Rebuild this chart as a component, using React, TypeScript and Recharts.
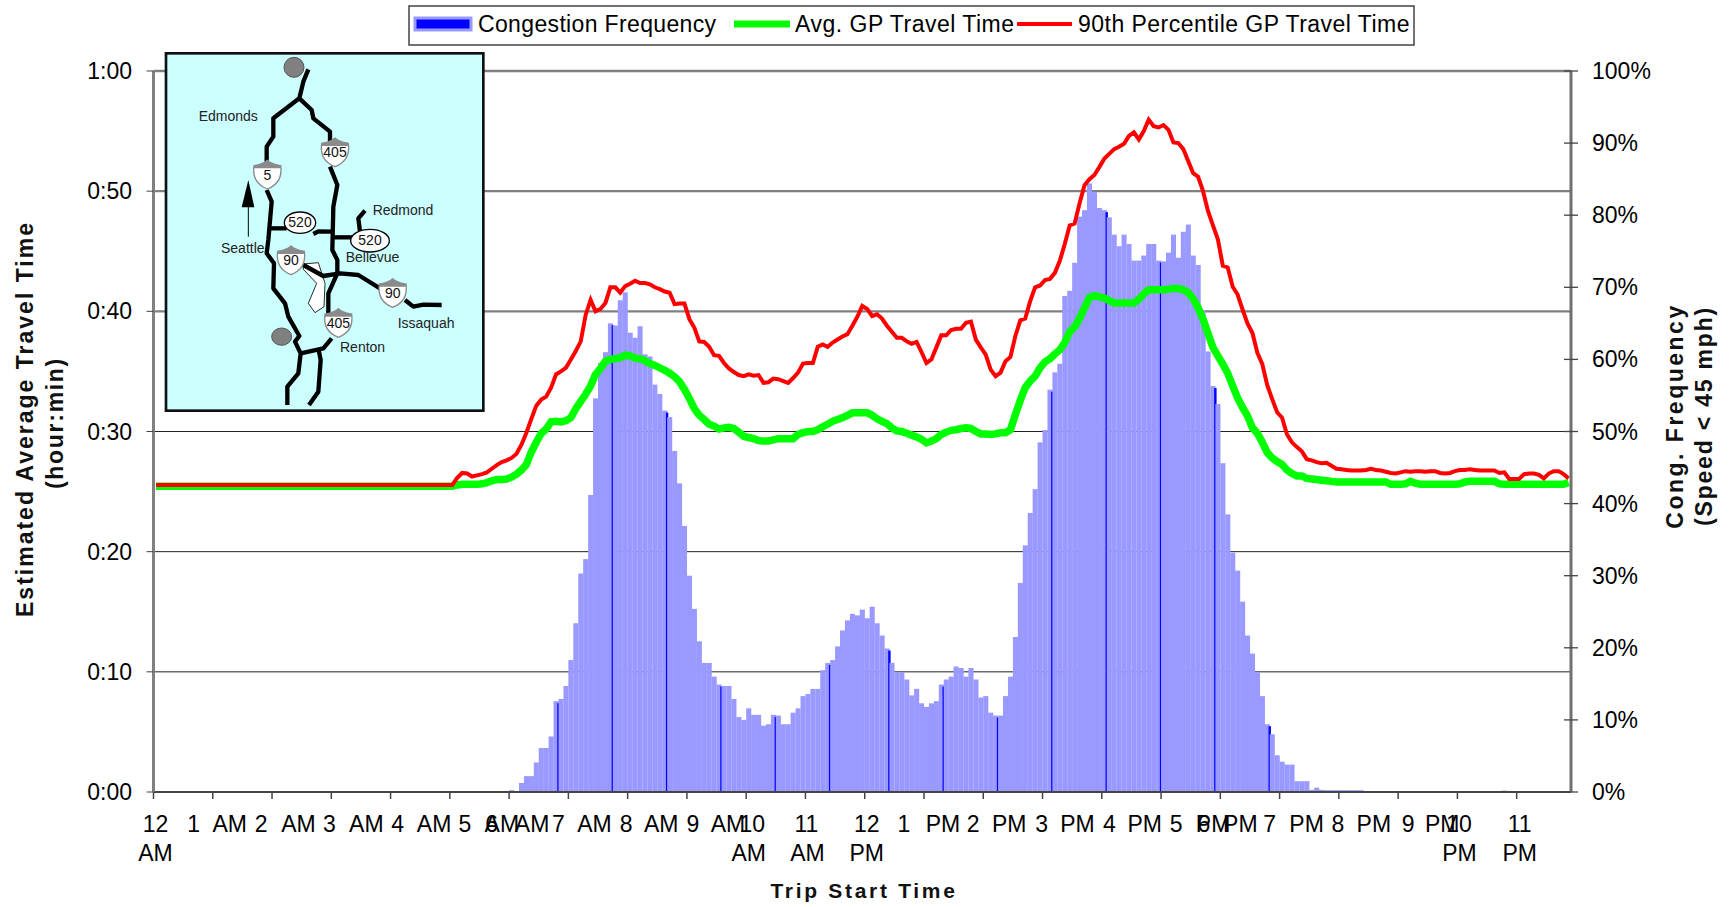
import { ComposedChart, Bar, Line, XAxis, YAxis, CartesianGrid, Legend } from 'recharts';

const FONT = '"Liberation Sans", Arial, sans-serif';

// 5 minute slots, one row per hour
const congestionFrequency = [
  0, 0, 0, 0, 0, 0, 0, 0, 0, 0, 0, 0,
  0, 0, 0, 0, 0, 0, 0, 0, 0, 0, 0, 0,
  0, 0, 0, 0, 0, 0, 0, 0, 0, 0, 0, 0,
  0, 0, 0, 0, 0, 0, 0, 0, 0, 0, 0, 0,
  0, 0, 0, 0, 0, 0, 0, 0, 0, 0, 0, 0,
  0, 0, 0, 0, 0, 0, 0, 0, 0, 0, 0, 0,
  0.25, 0, 1.25, 2.2, 2.2, 4.1, 6.1, 6.1, 7.7, 12.6, 12.9, 14.7,
  18.3, 23.4, 30.3, 32.3, 41.2, 54.6, 59.5, 61, 65, 64.7, 68.2, 69.3,
  63.7, 63, 64.6, 60.7, 60.4, 56.5, 55.2, 52.9, 52, 47.3, 42.8, 36.9,
  30, 25.4, 20.9, 17.9, 17.9, 16, 14.9, 14.7, 14.7, 12.9, 10.4, 10,
  11.6, 10.7, 10.7, 9.2, 9.4, 10.7, 10.6, 9.4, 9.4, 11, 11.6, 13.3,
  13.6, 14.3, 14.3, 16.9, 17.9, 18.3, 20.2, 22.4, 23.8, 24.7, 24.5, 25.3,
  24.1, 25.7, 23.4, 21.7, 19.9, 17.9, 16.6, 16.6, 15.6, 13.4, 14.3, 12.3,
  11.8, 12.3, 12.6, 14.9, 15.6, 16, 17.4, 17.2, 16, 17.2, 15.6, 13.1,
  13.3, 11, 10.6, 10.6, 13.3, 16, 21.5, 29, 34.2, 38.7, 42, 48.5,
  50.2, 55.8, 58.2, 59.4, 68.8, 69.5, 73.4, 79.8, 80.7, 84.4, 83.2, 81,
  80.7, 79.7, 77.3, 75.7, 77.3, 76, 73.7, 73.7, 74.4, 76, 76, 73.7,
  73.6, 74.8, 77.3, 74.1, 77.7, 78.7, 74.4, 73.1, 66.8, 61.1, 56.3, 53.8,
  45.6, 38.5, 33.2, 30.7, 26.4, 21.7, 19.2, 16.6, 13.3, 9.4, 8, 5.1,
  4.2, 3.8, 3.8, 1.5, 1.5, 1.5, 0.3, 0.6, 0.3, 0.25, 0.25, 0.25,
  0.25, 0.25, 0.25, 0.25, 0.25, 0, 0, 0, 0, 0, 0, 0,
  0, 0, 0, 0, 0, 0, 0, 0, 0, 0, 0, 0,
  0, 0, 0, 0, 0, 0, 0, 0, 0, 0.2, 0, 0,
  0, 0, 0, 0, 0, 0, 0, 0, 0, 0, 0,
];

const avgTravelTime = [
  25.45, 25.45, 25.45, 25.45, 25.45, 25.45, 25.45, 25.45, 25.45, 25.45, 25.45, 25.45,
  25.45, 25.45, 25.45, 25.45, 25.45, 25.45, 25.45, 25.45, 25.45, 25.45, 25.45, 25.45,
  25.45, 25.45, 25.45, 25.45, 25.45, 25.45, 25.45, 25.45, 25.45, 25.45, 25.45, 25.45,
  25.45, 25.45, 25.45, 25.45, 25.45, 25.45, 25.45, 25.45, 25.45, 25.45, 25.45, 25.45,
  25.45, 25.45, 25.45, 25.45, 25.45, 25.45, 25.45, 25.45, 25.45, 25.45, 25.45, 25.45,
  25.45, 25.55, 25.6, 25.6, 25.6, 25.6, 25.65, 25.75, 25.9, 26, 26, 26.05,
  26.2, 26.45, 26.8, 27.25, 28.3, 29.1, 29.85, 30.2, 30.8, 30.85, 30.8, 30.9,
  31.15, 31.9, 32.5, 33.1, 33.8, 34.75, 35.25, 35.85, 36, 36.05, 36.15, 36.35,
  36.3, 36.1, 36.05, 35.9, 35.65, 35.5, 35.3, 35.1, 34.85, 34.55, 34.15, 33.5,
  32.75, 31.9, 31.35, 31, 30.6, 30.45, 30.2, 30.3, 30.35, 30.25, 29.95, 29.6,
  29.5, 29.4, 29.25, 29.2, 29.2, 29.3, 29.4, 29.4, 29.4, 29.4, 29.75, 29.9,
  30, 30, 30.15, 30.4, 30.6, 30.85, 31, 31.15, 31.35, 31.55, 31.55, 31.55,
  31.55, 31.35, 31.05, 30.85, 30.65, 30.3, 30.05, 30, 29.85, 29.7, 29.55, 29.35,
  29.05, 29.2, 29.4, 29.75, 29.95, 30.1, 30.15, 30.25, 30.3, 30.25, 30, 29.8,
  29.8, 29.75, 29.8, 29.9, 29.9, 30.15, 31.4, 32.6, 33.65, 34.2, 34.6, 35.3,
  35.8, 36.05, 36.45, 36.8, 37.4, 38.3, 38.7, 39.4, 40.3, 41.15, 41.3, 41.2,
  41.1, 40.9, 40.7, 40.7, 40.7, 40.7, 40.7, 41, 41.45, 41.8, 41.8, 41.8,
  41.8, 41.85, 41.9, 41.9, 41.8, 41.55, 41.05, 40.3, 39.35, 38.15, 37, 36.3,
  35.6, 34.85, 33.8, 32.8, 32, 31.3, 30.3, 29.85, 29.1, 28.25, 27.8, 27.5,
  27.25, 26.8, 26.5, 26.3, 26.3, 26.1, 26.05, 26, 25.95, 25.9, 25.85, 25.8,
  25.8, 25.8, 25.8, 25.8, 25.8, 25.8, 25.8, 25.8, 25.8, 25.8, 25.6, 25.6,
  25.6, 25.65, 25.85, 25.7, 25.6, 25.6, 25.6, 25.6, 25.6, 25.6, 25.6, 25.6,
  25.65, 25.8, 25.85, 25.85, 25.85, 25.85, 25.85, 25.85, 25.65, 25.6, 25.6, 25.6,
  25.6, 25.6, 25.6, 25.6, 25.6, 25.6, 25.6, 25.6, 25.6, 25.6, 25.75,
];

const p90TravelTime = [
  25.55, 25.55, 25.55, 25.55, 25.55, 25.55, 25.55, 25.55, 25.55, 25.55, 25.55, 25.55,
  25.55, 25.55, 25.55, 25.55, 25.55, 25.55, 25.55, 25.55, 25.55, 25.55, 25.55, 25.55,
  25.55, 25.55, 25.55, 25.55, 25.55, 25.55, 25.55, 25.55, 25.55, 25.55, 25.55, 25.55,
  25.55, 25.55, 25.55, 25.55, 25.55, 25.55, 25.55, 25.55, 25.55, 25.55, 25.55, 25.55,
  25.55, 25.55, 25.55, 25.55, 25.55, 25.55, 25.55, 25.55, 25.55, 25.55, 25.55, 25.55,
  25.55, 26.15, 26.55, 26.5, 26.25, 26.35, 26.45, 26.6, 26.9, 27.2, 27.45, 27.6,
  27.8, 28.15, 28.9, 29.9, 31.05, 32.15, 32.65, 32.9, 33.65, 34.75, 35, 35.3,
  36, 36.7, 37.5, 39.7, 40.95, 40, 40.2, 40.7, 42, 42, 41.55, 42.1,
  42.3, 42.55, 42.35, 42.35, 42.25, 42, 41.85, 41.65, 41.55, 40.6, 40.65, 40.65,
  39.35, 38.65, 37.5, 37.45, 37.05, 36.35, 36.3, 35.7, 35.25, 34.95, 34.7, 34.6,
  34.75, 34.65, 34.7, 34.05, 34.1, 34.4, 34.35, 34.2, 34.05, 34.45, 34.9, 35.65,
  35.7, 35.7, 37.05, 37.25, 37.05, 37.4, 37.65, 37.9, 38.1, 38.8, 39.55, 40.45,
  40.2, 39.6, 39.75, 39.4, 38.8, 38.3, 37.8, 37.8, 37.5, 37.3, 37.45, 36.6,
  35.7, 36, 37, 38, 38, 38.45, 38.55, 38.55, 39.05, 39.15, 37.65, 37,
  36.4, 35.15, 34.6, 34.9, 35.85, 36.2, 37.95, 39.25, 39.4, 40.85, 42, 42.15,
  42.6, 42.7, 43.2, 44.2, 45.6, 47.15, 47.3, 49, 50.5, 51, 51.35, 52,
  52.7, 53.1, 53.5, 53.7, 53.95, 54.6, 54.9, 54.3, 55, 55.95, 55.4, 55.3,
  55.5, 55.1, 54.05, 54, 53.5, 52.5, 51.5, 51.2, 50, 48.35, 47.15, 46,
  43.8, 43.65, 42.05, 41.4, 40.15, 39, 38.2, 36.55, 35.6, 33.85, 32.7, 31.6,
  31.15, 29.75, 29.1, 28.7, 28.35, 27.7, 27.6, 27.45, 27.35, 27.4, 27.15, 26.9,
  26.85, 26.8, 26.75, 26.75, 26.75, 26.8, 26.9, 26.8, 26.75, 26.65, 26.55, 26.5,
  26.6, 26.7, 26.65, 26.7, 26.7, 26.65, 26.7, 26.7, 26.55, 26.5, 26.55, 26.7,
  26.8, 26.8, 26.85, 26.8, 26.75, 26.75, 26.75, 26.75, 26.55, 26.6, 26.05, 26.05,
  26.05, 26.45, 26.5, 26.5, 26.4, 26.1, 26.5, 26.7, 26.7, 26.45, 26.1,
];

const hourLabels = [
  '12 AM', '1 AM', '2 AM', '3 AM', '4 AM', '5 AM', '6 AM', '7 AM', '8 AM', '9 AM', '10 AM', '11 AM',
  '12 PM', '1 PM', '2 PM', '3 PM', '4 PM', '5 PM', '6 PM', '7 PM', '8 PM', '9 PM', '10 PM', '11 PM',
];
const hourSlots = [0, 12, 24, 36, 48, 60, 72, 84, 96, 108, 120, 132, 144, 156, 168, 180, 192, 204, 216, 228, 240, 252, 264, 276];
const timeTicks = [0, 10, 20, 30, 40, 50, 60];
const percentTicks = [0, 10, 20, 30, 40, 50, 60, 70, 80, 90, 100];
const heavyGridValues = [40, 50, 60];
const lightGridValues = [10, 20, 30];
// bars that show the dark core in the reference
const darkCoreSlots = [81, 92, 103, 114, 125, 136, 148, 159, 170, 181, 192, 203, 214, 225];

// the reference lays its axis labels out unevenly: [number dx, unit dx, unit on second row]
const hourLabelLayout: [number, number, boolean][] = [
  [2, 2, true], [-19, 17, false], [-11, 26.5, false], [-2, 35, false], [7, 43.5, false], [15, 52, false],
  [-17.5, 23, false], [-10, 26, false], [-1.5, 33.5, false], [6, 41, false], [6, 2.5, true], [1, 2, true],
  [2, 2, true], [-20, 19, false], [-10, 26, false], [-1, 35, false], [7.5, 43, false], [15, 52, false],
  [-16.5, 20, false], [-10, 27, false], [-1, 35, false], [10, 44, false], [1.5, 2, true], [3, 3, true],
];

const legendItems = [
  { label: 'Congestion Frequency', color: '#0000FF', x0: 7, x1: 63, h: 12, edge: '#9999FF', tx: 70, spacing: 0.35 },
  { label: 'Avg. GP Travel Time', color: '#00FF00', x0: 326, x1: 382, h: 7, edge: 'none', tx: 387, spacing: 0.5 },
  { label: '90th Percentile GP Travel Time', color: '#FF0000', x0: 609, x1: 664, h: 4, edge: 'none', tx: 670, spacing: 0.47 },
];

const rows = congestionFrequency.map((freq, slot) => ({
  slot,
  freq,
  avg: avgTravelTime[slot],
  p90: p90TravelTime[slot],
}));

const formatClock = (m: number) => `${Math.floor(m / 60)}:${String(m % 60).padStart(2, '0')}`;

const CongestionBar = (props: any) => {
  const { x, y, width, height, index } = props;
  if (!height) return null;
  return (
    <g>
      <rect x={x} y={y} width={width + 0.15} height={height} fill="#9999FF" />
      {darkCoreSlots.includes(index) && (
        <rect x={x + width - 1.2} y={y + 2} width={2.4} height={Math.max(height - 2, 0)} fill="#0000FF" />
      )}
    </g>
  );
};

const HourTick = (props: any) => {
  const { x, y, index } = props;
  const [number, unit] = hourLabels[index].split(' ');
  const [numDx, unitDx, stacked] = hourLabelLayout[index];
  const left = x - 2.47;
  return (
    <g fontFamily={FONT} fontSize={23} fill="#000" textAnchor="middle">
      <line x1={left} x2={left} y1={y - 8} y2={y - 1} stroke="#444" strokeWidth={1.5} />
      <text x={left + numDx} y={y + 32}>{number}</text>
      <text x={left + unitDx} y={stacked ? y + 61 : y + 32}>{unit}</text>
    </g>
  );
};

const PercentTick = (props: any) => {
  const { x, y, payload } = props;
  return (
    <g>
      <line x1={x - 28} x2={x - 14} y1={y} y2={y} stroke="#444" strokeWidth={1.3} />
      <text x={x} y={y + 8} fontFamily={FONT} fontSize={23} fill="#000">{payload.value}%</text>
    </g>
  );
};

const ChartLegend = () => (
  <svg width={1008} height={42} style={{ display: 'block' }}>
    <rect x={1} y={1} width={1005} height={39} fill="#fff" stroke="#444" strokeWidth={1.5} />
    {legendItems.map((item) => (
      <g key={item.label}>
        <rect
          x={item.x0}
          y={19 - item.h / 2}
          width={item.x1 - item.x0}
          height={item.h}
          fill={item.color}
          stroke={item.edge}
          strokeWidth={3}
        />
        <text x={item.tx} y={27} fontFamily={FONT} fontSize={23} letterSpacing={item.spacing} fill="#000">
          {item.label}
        </text>
      </g>
    ))}
  </svg>
);

const Shield = ({ cx, cy, label }: { cx: number; cy: number; label: string }) => (
  <g transform={`translate(${cx},${cy})`}>
    <path
      d="M-40,-28 C-28,-30 -12,-32 0,-44 C12,-32 28,-30 40,-28 C44,0 36,28 0,42 C-36,28 -44,0 -40,-28 Z"
      fill="#fff"
      stroke="#8a8a8a"
      strokeWidth={4}
    />
    <path d="M-40,-28 C-28,-30 -12,-32 0,-44 C12,-32 28,-30 40,-28 L41,-20 L-41,-20 Z" fill="#8a8a8a" />
    <text x={0} y={14} textAnchor="middle" fontSize={42} fill="#111">{label}</text>
  </g>
);

const RouteOval = ({ cx, cy, rx, ry, label }: { cx: number; cy: number; rx: number; ry: number; label: string }) => (
  <g>
    <ellipse cx={cx} cy={cy} rx={rx} ry={ry} fill="#fff" stroke="#000" strokeWidth={4} />
    <text x={cx} y={cy + 14} textAnchor="middle" fontSize={42} fill="#111">{label}</text>
  </g>
);

const roadPaths = [
  '505,118 490,155 478,205 400,265 400,320 380,350 380,395',
  '380,480 395,515 385,630 380,670 402,700 400,775 435,820 445,860 478,918 465,935 482,970 475,1030 442,1070 442,1125',
  '478,205 515,240 520,265 570,305 570,335',
  '570,410 592,465 580,530 577,660 592,690 592,730 565,790 565,850',
  '575,925 550,955 482,970',
  '535,955 542,990 535,1085 507,1125',
  '385,595 440,595',
  '520,612 535,604 580,605',
  '580,622 640,622',
  '675,542 655,565 660,605',
  '490,705 550,738 600,730 655,735 720,775',
  '795,810 820,830 850,824 905,825',
];

const mapTexts = [
  { label: 'Edmonds', x: 176, y: 272 },
  { label: 'Redmond', x: 698, y: 556 },
  { label: 'Seattle', x: 243, y: 668 },
  { label: 'Bellevue', x: 617, y: 695 },
  { label: 'Issaquah', x: 773, y: 893 },
  { label: 'Renton', x: 600, y: 965 },
];

// inset map, drawn in the 3x pixel space of its 360x390 crop
const InsetMap = () => (
  <svg
    width={360}
    height={390}
    viewBox="0 0 1080 1170"
    fontFamily={FONT}
    style={{ position: 'absolute', left: 140, top: 30 }}
  >
    <rect x={78} y={70} width={952} height={1072} fill="#CCFFFF" stroke="#111" strokeWidth={8} />
    <circle cx={462} cy={112} r={30} fill="#808080" stroke="#555" strokeWidth={3} />
    <ellipse cx={425} cy={920} rx={30} ry={26} fill="#808080" stroke="#555" strokeWidth={3} />
    <path
      d="M490,702 L535,698 L555,760 L552,830 L525,848 L505,820 L530,760 L490,718 Z"
      fill="#fff"
      stroke="#000"
      strokeWidth={2.5}
    />
    {roadPaths.map((points) => (
      <polyline key={points} points={points} fill="none" stroke="#000" strokeWidth={13} strokeLinejoin="round" />
    ))}
    <path d="M325,450 L305,532 L343,532 Z" fill="#000" />
    <line x1={325} y1={530} x2={325} y2={620} stroke="#000" strokeWidth={3} />
    <Shield cx={585} cy={368} label="405" />
    <Shield cx={382} cy={435} label="5" />
    <Shield cx={453} cy={692} label="90" />
    <Shield cx={758} cy={790} label="90" />
    <Shield cx={595} cy={880} label="405" />
    <RouteOval cx={480} cy={578} rx={47} ry={32} label="520" />
    <RouteOval cx={690} cy={632} rx={58} ry={34} label="520" />
    {mapTexts.map((t) => (
      <text key={t.label} x={t.x} y={t.y} fontSize={42} fill="#222">{t.label}</text>
    ))}
  </svg>
);

const AxisTitles = () => (
  <svg
    width={1730}
    height={907}
    fontFamily={FONT}
    fontWeight="bold"
    fontSize={23}
    fill="#111"
    style={{ position: 'absolute', left: 0, top: 0, pointerEvents: 'none' }}
  >
    <text transform="translate(33,419) rotate(-90)" textAnchor="middle" letterSpacing={2}>Estimated Average Travel Time</text>
    <text transform="translate(63,423) rotate(-90)" textAnchor="middle" letterSpacing={1.7}>(hour:min)</text>
    <text transform="translate(1683,416) rotate(-90)" textAnchor="middle" letterSpacing={2.5}>Cong. Frequency</text>
    <text transform="translate(1712,416) rotate(-90)" textAnchor="middle" letterSpacing={1.8}>(Speed &lt; 45 mph)</text>
    <text x={864} y={898} textAnchor="middle" fontSize={21} letterSpacing={2.7}>Trip Start Time</text>
  </svg>
);

export default function App() {
  return (
    <div style={{ position: 'absolute', left: 0, top: 0, width: 1730, height: 907, fontFamily: FONT, background: '#fff' }}>
      <ComposedChart
        width={1730}
        height={907}
        data={rows}
        barCategoryGap={0}
        barGap={0}
        margin={{ top: 71, right: 89, bottom: 15, left: 83.5 }}
      >
        <CartesianGrid yAxisId="time" vertical={false} horizontalValues={heavyGridValues} stroke="#808080" strokeWidth={2.4} />
        <CartesianGrid yAxisId="time" vertical={false} horizontalValues={lightGridValues} stroke="#222" strokeWidth={1} />
        <XAxis
          dataKey="slot"
          ticks={hourSlots}
          interval={0}
          height={100}
          tick={<HourTick />}
          tickLine={false}
          axisLine={{ stroke: '#444', strokeWidth: 2 }}
        />
        <YAxis
          yAxisId="time"
          width={70}
          domain={[0, 60]}
          ticks={timeTicks}
          tickFormatter={formatClock}
          tickSize={7}
          tickMargin={14.5}
          tick={{ fill: '#000', fontSize: 23, fontFamily: FONT }}
          tickLine={{ stroke: '#444' }}
          axisLine={{ stroke: '#808080', strokeWidth: 3 }}
        />
        <YAxis
          yAxisId="percent"
          orientation="right"
          width={70}
          domain={[0, 100]}
          ticks={percentTicks}
          tickSize={7}
          tickMargin={14}
          tick={<PercentTick />}
          tickLine={false}
          axisLine={{ stroke: '#707070', strokeWidth: 3 }}
        />
        <Bar yAxisId="percent" dataKey="freq" name="Congestion Frequency" barSize={4.93} shape={<CongestionBar />} isAnimationActive={false} />
        <Line yAxisId="time" dataKey="avg" name="Avg. GP Travel Time" stroke="#00FF00" strokeWidth={7.5} dot={false} activeDot={false} isAnimationActive={false} />
        <Line yAxisId="time" dataKey="p90" name="90th Percentile GP Travel Time" stroke="#FF0000" strokeWidth={4} dot={false} activeDot={false} isAnimationActive={false} />
        <Legend
          layout="horizontal"
          verticalAlign="middle"
          content={<ChartLegend />}
          wrapperStyle={{ left: 408, top: 5, width: 1008, height: 42 }}
        />
      </ComposedChart>
      <AxisTitles />
      <InsetMap />
    </div>
  );
}
